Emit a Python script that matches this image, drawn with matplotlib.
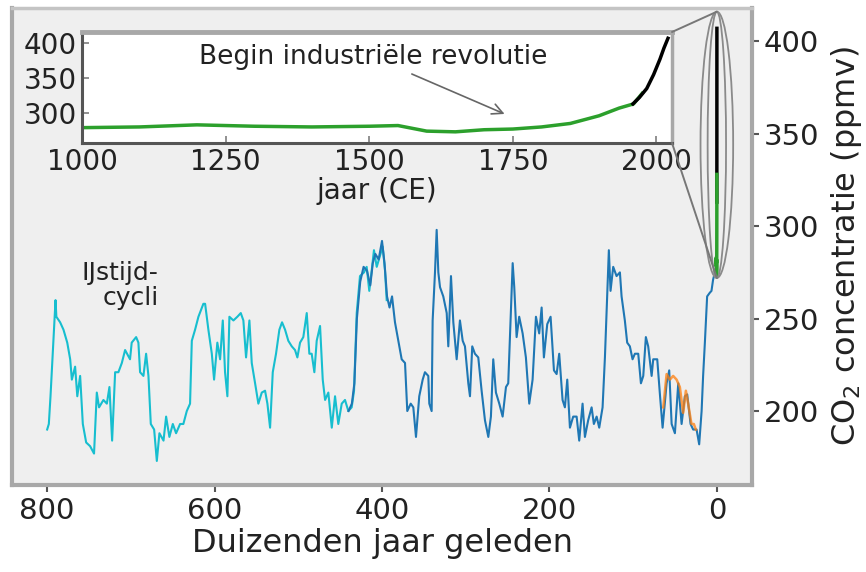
import numpy as np
import matplotlib
matplotlib.use('Agg')
import matplotlib.pyplot as plt
from matplotlib.patches import Ellipse, ConnectionPatch

# ice core CO2, thousands of years before present (ka) and ppmv
dome_ka = [800, 798, 796, 790, 789, 784.5, 780.5, 776, 772.5, 770.5, 766.6, 764, 760.6, 757.4,
           753.4, 748.7, 744, 740.7, 738, 732.8, 728.7, 725.6, 722.4, 718.8, 714.9, 710.8,
           706.9, 701, 699, 693.7, 691, 689, 685, 681.8, 679, 676.2, 672.2, 669, 665.9, 661,
           657.9, 654, 649.9, 646, 641.2, 637.3, 633.2, 629.3, 627.2, 623.3, 619.3, 613.4,
           611.3, 607.4, 603.3, 600.6, 596.7, 593.4, 590.2, 587.5, 584.7, 582.3, 577.5, 572.8,
           568.7, 565.6, 562.4, 558.4, 555.6, 551.6, 547.7, 543.6, 539.7, 536.9, 533.7, 530.5,
           526.6, 522.6, 519.4, 515.8, 511.9, 507.8, 503.9, 501.1, 497.9, 494, 489.9, 486.8,
           484, 480.8, 478, 474, 470.8, 468, 464.1, 460, 456.1, 452.2, 448.1, 444.2, 440.2,
           436.2, 433.4, 430.2, 426.3, 421.5, 418.3, 415.2, 412.3, 409.6, 406.3, 402.4, 399.2,
           396.4, 394.4]
dome_ppm = [190, 193, 208, 260, 251, 248, 244, 237, 228, 217, 224, 208, 219, 193,
            183, 181, 177, 210, 202, 206, 204, 213, 184, 221, 221, 226,
            233, 228, 237, 240, 237, 221, 219, 231, 219, 193, 190, 173, 188, 184,
            197, 186, 193, 188, 193, 193, 200, 204, 238, 244, 251, 258,
            258, 244, 231, 217, 237, 228, 249, 221, 208, 251, 249, 251,
            253, 249, 229, 249, 226, 215, 204, 210, 211, 204, 191, 221,
            231, 244, 248, 244, 238, 235, 233, 229, 237, 240, 253, 231,
            231, 221, 238, 246, 217, 206, 210, 191, 208, 193, 204, 206, 200,
            202, 211, 253, 273, 275, 278, 265, 276, 287, 278, 284, 289,
            276, 260]

vostok_ka = [440, 436, 433, 430, 426, 422, 418, 414, 411, 408, 404, 400, 397, 394, 391, 388,
             384.5, 380.5, 376.5, 372.5, 369.8, 365.7, 362.6, 359.4, 355.5, 351.4, 348.7,
             344.7, 343.5, 340.7, 339.5, 336.7, 334.7, 332.7, 330.7, 326.8, 322.7, 320.8,
             317.6, 314.8, 312.8, 310.8, 306.9, 303.6, 300.9, 296.9, 294.9, 292.2, 289, 285,
             281, 277, 273, 269.9, 267.1, 263.9, 259.9, 255.9, 251.9, 249.2, 246.3, 243.9,
             242, 239.2, 236.1, 232, 228.1, 224.1, 220.1, 216.1, 212.2, 209.3, 206.6, 202.6,
             198.6, 194.6, 191.4, 188.3, 184.3, 181.5, 178.7, 175.5, 171.6, 167.5, 164.4,
             160.4, 157.6, 153.7, 149.6, 146.9, 143.6, 140.5, 136.5, 133.7, 131, 129, 127,
             123.8, 119.8, 115.8, 113.8, 109.9, 107.1, 103.9, 100.7, 97.9, 93.9, 90.7, 87.9,
             84.8, 82, 77.9, 76, 71.2, 68, 64.8, 60, 56.9, 54, 50.1, 46.1, 42.1, 38.2, 35.4,
             31.4, 28.3, 24.2, 21.1, 18.2, 16.4, 14.3, 11.6, 8.4, 6.4, 4.5, 2.4, 1.2]
vostok_ppm = [200, 204, 215, 250, 270, 278, 276, 268, 280, 285, 282, 292, 280, 262, 256, 262,
              248, 238, 228, 226, 200, 204, 202, 186, 208, 217, 221,
              219, 204, 200, 249, 275, 298, 275, 267, 262, 253, 235,
              273, 248, 238, 228, 249, 238, 235, 215, 208, 235, 231, 229,
              211, 195, 186, 197, 228, 210, 204, 197, 213, 215, 251, 280,
              267, 240, 251, 242, 229, 204, 217, 251, 242, 256, 229, 247,
              251, 222, 220, 231, 206, 202, 217, 191, 197, 197, 184,
              204, 186, 195, 202, 193, 197, 191, 202, 229, 262, 287, 265,
              278, 273, 275, 262, 249, 237, 235, 228, 231, 231, 215, 219,
              240, 235, 219, 228, 228, 209, 191, 215, 222, 193, 188, 215, 193, 208, 209,
              193, 190, 190, 182, 200, 219, 237, 262, 264, 265, 271, 275, 277]

edml_ka = [64, 60, 56.1, 52.2, 48.1, 44.2, 40.2, 37, 34.3, 30.3, 27.5, 25.1]
edml_ppm = [202, 220, 217, 219, 217, 213, 199, 211, 204, 193, 193, 190]

# last millennium: Law Dome (green) and Mauna Loa (black), years CE
lawdome_year = [1000, 1100, 1200, 1300, 1400, 1500, 1550, 1600, 1650, 1700, 1750, 1800,
                1850, 1900, 1935, 1960, 1975]
lawdome_ppm = [279, 280, 283, 281, 280, 281, 282, 274, 273, 276, 277, 280,
               285, 296, 307, 313, 328]
mloa_year = [1959, 1970, 1983, 1995, 2006, 2013, 2020]
mloa_ppm = [313, 322, 335, 355, 377, 393, 407]

x_ticks = [800, 600, 400, 200, 0]
y_ticks = [200, 250, 300, 350, 400]
ins_x_ticks = [1000, 1250, 1500, 1750, 2000]
ins_y_ticks = [300, 350, 400]

c_dome = '#17becf'
c_vostok = '#1f77b4'
c_edml = '#ff7f0e'
c_law = '#2ca02c'
frame = '#a8a8a8'
txt = '#222222'

fig = plt.figure(figsize=(8.66, 5.72), dpi=100)
ax = fig.add_axes([12/866, 1-485/572, 740/866, 477/572])
ax.set_facecolor('#efefef')

ax.plot(dome_ka, dome_ppm, color=c_dome, lw=1.5, zorder=3)
ax.plot(vostok_ka, vostok_ppm, color=c_vostok, lw=1.5, zorder=3)
ax.plot(edml_ka, edml_ppm, color=c_edml, lw=1.8, alpha=0.75, zorder=4)

law_ka = (1950 - np.array(lawdome_year)) / 1000.
mloa_ka = (1950 - np.array(mloa_year)) / 1000.
ax.plot(mloa_ka, mloa_ppm, color='black', lw=2.5, zorder=5)
ax.plot(law_ka, lawdome_ppm, color=c_law, lw=2.5, zorder=6)

# lens round the modern rise
ell_top, ell_bot = 416, 272
ell_c = (ell_top + ell_bot) / 2
ax.add_patch(Ellipse((0, ell_c), 39, ell_top - ell_bot, fill=False, ec='#8a8a8a', lw=1.3, zorder=7))
ax.add_patch(Ellipse((0, ell_c), 22, ell_top - ell_bot, fill=False, ec='#8a8a8a', lw=1.3, zorder=7))

ax.set_xlim(842, -42)
ax.set_ylim(160, 418)
ax.set_xticks(x_ticks)
ax.set_yticks(y_ticks)
ax.yaxis.tick_right()
ax.yaxis.set_label_position('right')
ax.tick_params(axis='both', labelsize=21, colors=txt, length=5, width=1.5, direction='out')
ax.tick_params(axis='x', color='#555555')
ax.tick_params(axis='y', color='#555555')
for s in ax.spines.values():
    s.set_color(frame)
    s.set_linewidth(3)
ax.spines['top'].set_color('#c4c4c4')
ax.spines['top'].set_linewidth(2.5)
ax.set_xlabel('Duizenden jaar geleden', fontsize=23, color=txt, labelpad=2)
ax.set_ylabel('CO$_2$ concentratie (ppmv)', fontsize=23, color=txt, labelpad=7)

ax.text(667, 268, 'IJstijd-\ncycli', fontsize=18, color=txt, ha='right', va='center',
        multialignment='right', linespacing=1.05, zorder=8)

# inset: last thousand years
axins = fig.add_axes([82/866, 1-143/572, 590/866, 111/572])
axins.set_facecolor('white')
axins.plot(lawdome_year, lawdome_ppm, color=c_law, lw=2.5)
axins.plot(mloa_year, mloa_ppm, color='black', lw=2.5)
axins.set_xlim(1000, 2027)
axins.set_ylim(257, 416)
axins.set_xticks(ins_x_ticks)
axins.set_yticks(ins_y_ticks)
axins.tick_params(axis='both', labelsize=20, colors=txt, direction='in', length=5, width=1.3)
axins.tick_params(axis='both', color='#888888')
axins.spines['left'].set_color('#555555')
axins.spines['bottom'].set_color('#555555')
axins.spines['left'].set_linewidth(2.2)
axins.spines['bottom'].set_linewidth(2.2)
axins.spines['top'].set_color(frame)
axins.spines['top'].set_linewidth(3.5)
axins.spines['right'].set_color(frame)
axins.spines['right'].set_linewidth(2.5)
axins.set_xlabel('jaar (CE)', fontsize=20, color=txt, labelpad=1)
axins.annotate('Begin industriële revolutie', xy=(1740, 297), xytext=(1506, 380),
               fontsize=19, color=txt, ha='center', va='center',
               arrowprops=dict(arrowstyle='->', color='#666666', lw=1.2))

# connector lines from inset corners to the lens
for ya, yb in [(1, ell_top), (0, ell_bot)]:
    con = ConnectionPatch(xyA=(1, ya), coordsA=axins.transAxes, xyB=(0, yb), coordsB=ax.transData,
                          color='#777777', lw=1.4, zorder=1)
    fig.add_artist(con)

fig.savefig('out.png', dpi=100, facecolor='white')
